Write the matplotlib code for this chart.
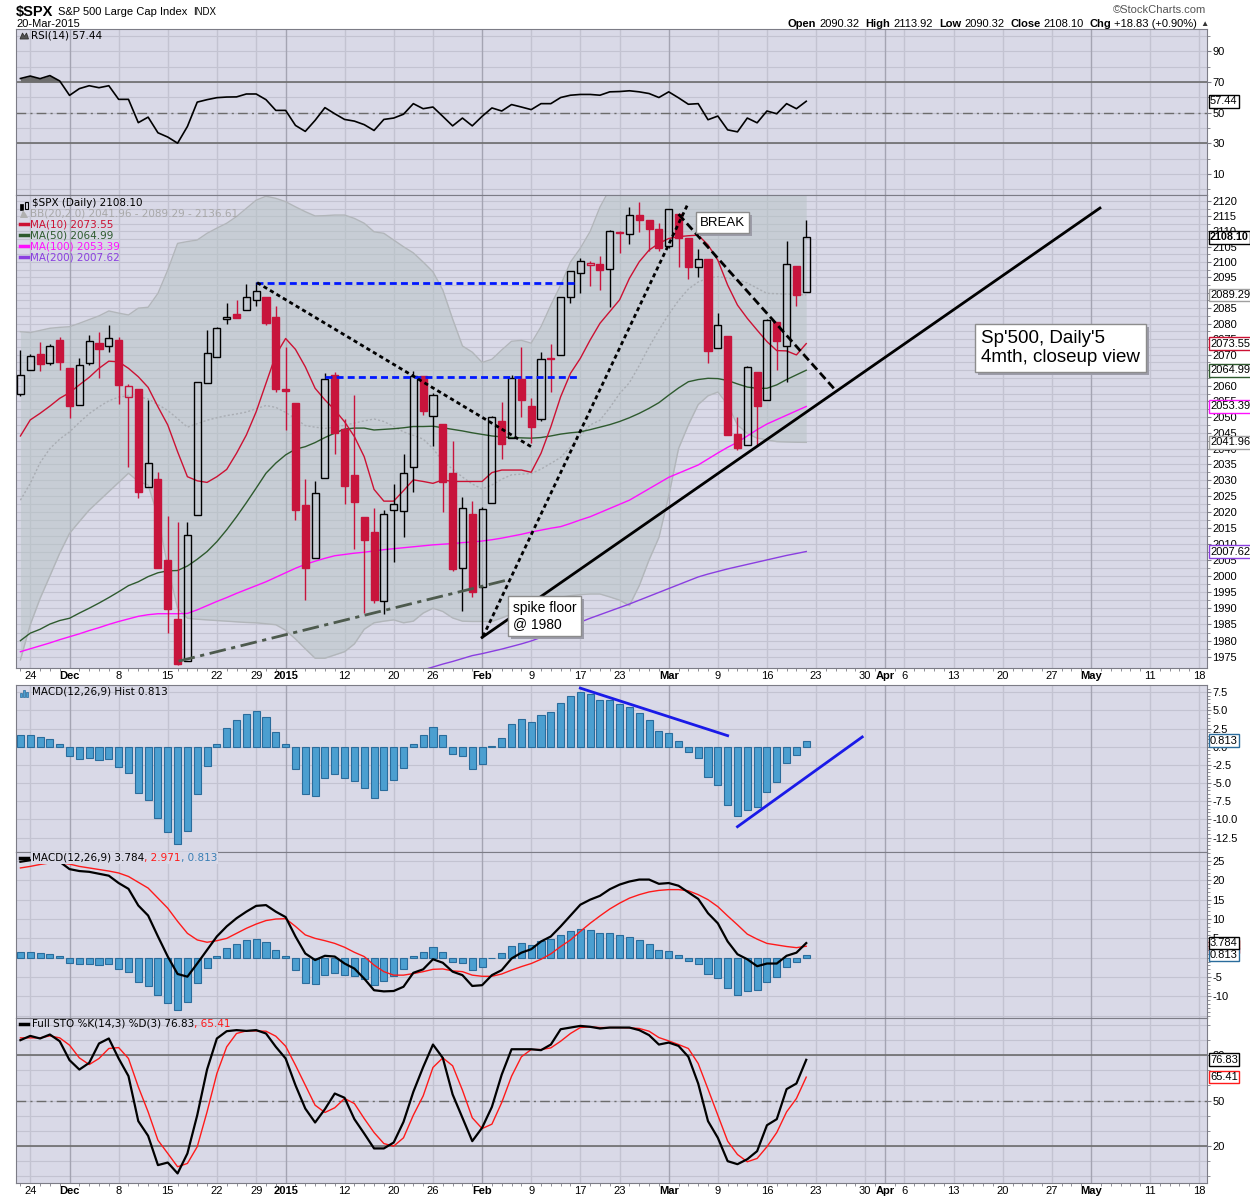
import matplotlib
matplotlib.use("Agg")
import matplotlib.pyplot as plt
import numpy as np
from matplotlib.lines import Line2D
from matplotlib.patches import Rectangle, Polygon
from matplotlib.ticker import FixedLocator, FuncFormatter, NullFormatter
from matplotlib.transforms import IdentityTransform

plt.rcParams["font.family"] = ["Liberation Sans", "DejaVu Sans"]

# ---------------- data (one entry per trading day, 21-Nov-2014 .. 20-Mar-2015) ----------------
prev_close = 2052.75
opens = [2057.46, 2065.07, 2070.15, 2067.36, 2074.78, 2065.78, 2053.77, 2067.45, 2073.64, 2072.78,
         2074.84, 2056.55, 2058.86, 2027.92, 2030.36, 2005.03, 1986.71, 1973.77, 2018.98, 2061.04,
         2069.28, 2081.48, 2083.25, 2084.30, 2087.63, 2088.49, 2082.11, 2058.90, 2054.44, 2022.15,
         2005.55, 2030.61, 2063.45, 2046.13, 2031.58, 2018.40, 2013.75, 1992.25, 2020.76, 2020.19,
         2034.30, 2062.98, 2050.42, 2047.86, 2032.34, 2002.45, 2019.35, 1996.67, 2022.71, 2048.86,
         2043.45, 2062.28, 2053.47, 2049.38, 2068.55, 2069.98, 2088.78, 2096.47, 2099.16, 2099.25,
         2097.65, 2109.83, 2109.10, 2115.30, 2113.91, 2110.88, 2105.23, 2115.76, 2107.72, 2098.54,
         2100.91, 2072.25, 2076.14, 2044.69, 2041.10, 2064.56, 2055.35, 2080.59, 2072.84, 2098.69,
         2090.32]
highs = [2071.46, 2070.17, 2074.21, 2073.29, 2075.76, 2065.78, 2068.77, 2076.28, 2077.34, 2079.47,
         2075.78, 2060.60, 2058.86, 2055.53, 2032.50, 2018.69, 2016.89, 2016.75, 2061.23, 2077.85,
         2078.76, 2086.73, 2087.56, 2092.70, 2093.55, 2088.49, 2085.58, 2072.36, 2054.44, 2030.25,
         2029.61, 2064.08, 2064.43, 2049.30, 2056.93, 2018.40, 2021.35, 2020.46, 2028.94, 2038.29,
         2064.62, 2062.98, 2057.62, 2047.86, 2042.49, 2024.64, 2023.32, 2021.66, 2050.30, 2054.74,
         2063.55, 2072.40, 2056.16, 2070.86, 2073.48, 2088.53, 2097.03, 2101.30, 2100.23, 2102.13,
         2110.61, 2110.05, 2117.94, 2119.59, 2113.91, 2112.74, 2117.52, 2115.76, 2107.72, 2104.25,
         2100.91, 2083.49, 2076.14, 2050.08, 2066.41, 2064.56, 2081.41, 2080.59, 2106.85, 2098.69,
         2113.92]
lows = [2056.75, 2065.07, 2064.75, 2066.62, 2065.06, 2049.57, 2053.77, 2066.65, 2062.34, 2070.81,
        2054.27, 2034.17, 2024.26, 2027.92, 2002.33, 1982.26, 1972.56, 1973.77, 2018.98, 2061.03,
        2069.28, 2079.77, 2081.86, 2084.30, 2085.75, 2079.53, 2057.94, 2046.04, 2017.34, 1992.44,
        2005.55, 2030.61, 2038.33, 2022.58, 2008.25, 1988.44, 1991.47, 1988.12, 2004.49, 2012.04,
        2026.38, 2050.54, 2040.97, 2019.91, 2001.49, 1989.18, 1993.38, 1980.90, 2022.71, 2036.72,
        2043.45, 2049.97, 2041.88, 2048.62, 2057.99, 2069.98, 2086.70, 2089.80, 2092.15, 2090.79,
        2085.44, 2103.00, 2105.87, 2109.89, 2103.76, 2103.75, 2104.50, 2098.26, 2094.49, 2095.22,
        2067.27, 2072.21, 2044.16, 2039.69, 2041.10, 2041.17, 2055.35, 2065.08, 2061.23, 2085.56,
        2090.32]
closes = [2063.50, 2069.41, 2067.03, 2072.83, 2067.56, 2053.44, 2066.55, 2074.33, 2071.92, 2075.37,
          2060.31, 2059.82, 2026.14, 2035.33, 2002.33, 1989.63, 1972.74, 2012.89, 2061.23, 2070.65,
          2078.54, 2082.17, 2081.88, 2088.77, 2090.57, 2080.35, 2058.90, 2058.20, 2020.58, 2002.61,
          2025.90, 2062.14, 2044.81, 2028.26, 2023.03, 2011.27, 1992.67, 2019.42, 2022.55, 2032.12,
          2063.15, 2051.82, 2057.09, 2029.55, 2002.16, 2021.25, 1994.99, 2020.85, 2050.03, 2041.51,
          2062.52, 2055.47, 2046.74, 2068.59, 2068.53, 2088.48, 2096.99, 2100.34, 2099.68, 2097.45,
          2110.30, 2109.66, 2115.48, 2113.86, 2110.74, 2104.50, 2117.39, 2107.78, 2098.53, 2101.04,
          2071.26, 2079.43, 2044.16, 2040.24, 2065.95, 2053.40, 2081.19, 2074.28, 2099.50, 2089.27,
          2108.10]

ma10 = [2044.0, 2049.1, 2051.2, 2053.5, 2056.0, 2057.8, 2060.3, 2062.7, 2065.6, 2067.9,
        2067.7, 2065.6, 2062.9, 2059.5, 2053.3, 2047.5, 2039.0, 2031.1, 2029.8, 2029.3,
        2031.1, 2033.4, 2038.5, 2044.3, 2051.7, 2060.8, 2069.9, 2075.2, 2071.7, 2066.1,
        2059.2, 2055.5, 2052.3, 2048.5, 2043.8, 2037.4, 2027.1, 2023.4, 2023.4, 2026.7,
        2030.1, 2029.6, 2029.0, 2030.1, 2029.6, 2029.6, 2029.6, 2029.6, 2032.4, 2033.2,
        2033.2, 2033.2, 2032.5, 2038.5, 2046.9, 2056.5, 2064.0, 2068.8, 2074.7, 2080.1,
        2083.9, 2087.7, 2094.7, 2100.1, 2103.9, 2106.1, 2107.7, 2108.3, 2108.6, 2108.8,
        2105.6, 2100.6, 2092.5, 2086.0, 2081.7, 2077.9, 2074.2, 2071.3, 2071.2, 2069.9,
        2073.55]
ma50 = [1980.0, 1982.3, 1983.5, 1985.1, 1986.2, 1986.9, 1988.5, 1990.0, 1991.6, 1993.3,
        1995.1, 1997.0, 1998.2, 1999.8, 2001.0, 2001.6, 2001.7, 2003.1, 2005.2, 2007.6,
        2010.7, 2014.4, 2018.5, 2022.9, 2027.5, 2032.2, 2035.4, 2038.0, 2039.8, 2040.6,
        2041.9, 2043.5, 2044.9, 2046.2, 2046.5, 2046.5, 2045.9, 2046.1, 2046.3, 2046.6,
        2047.0, 2047.0, 2047.1, 2046.6, 2046.1, 2045.6, 2045.0, 2044.5, 2044.0, 2043.7,
        2043.5, 2043.4, 2043.3, 2043.5, 2044.0, 2044.6, 2045.0, 2045.3, 2046.0, 2046.8,
        2047.6, 2048.6, 2049.8, 2051.2, 2052.8, 2054.6, 2057.0, 2059.3, 2061.3, 2062.0,
        2062.4, 2062.3, 2061.7, 2060.6, 2059.6, 2059.2, 2059.2, 2060.3, 2062.0, 2063.5,
        2064.99]
ma100 = [1976.6, 1977.5, 1978.4, 1979.3, 1980.3, 1981.2, 1982.1, 1983.1, 1984.0, 1985.0,
         1985.9, 1986.7, 1987.5, 1988.0, 1988.3, 1988.3, 1988.3, 1988.4, 1989.5, 1990.8,
         1992.1, 1993.3, 1994.6, 1995.8, 1997.0, 1998.2, 1999.6, 2001.0, 2002.4, 2003.6,
         2004.6, 2005.5, 2006.3, 2006.7, 2007.1, 2007.4, 2007.8, 2008.2, 2008.5, 2008.8,
         2009.1, 2009.4, 2009.7, 2009.9, 2010.1, 2010.4, 2010.6, 2010.9, 2011.3, 2011.8,
         2012.4, 2013.0, 2013.7, 2014.3, 2014.9, 2015.4, 2016.4, 2017.5, 2018.5, 2019.8,
         2021.1, 2022.4, 2023.7, 2025.5, 2027.3, 2029.1, 2030.9, 2032.2, 2033.5, 2034.8,
         2036.7, 2038.6, 2040.4, 2042.0, 2044.0, 2046.0, 2047.8, 2049.2, 2050.6, 2052.0,
         2053.39]
ma200_first = 40  # earlier values sit below the visible price range
ma200 = [1970.3, 1971.0, 1971.9, 1972.8, 1973.6, 1974.5, 1975.4, 1976.0, 1976.7, 1977.4,
         1978.2, 1979.0, 1979.9, 1981.0, 1982.1, 1983.2, 1984.5, 1985.7, 1986.9, 1988.0,
         1989.1, 1990.2, 1991.3, 1992.5, 1993.7, 1994.9, 1996.1, 1997.3, 1998.5, 1999.7,
         2000.6, 2001.4, 2002.2, 2002.9, 2003.6, 2004.3, 2005.0, 2005.7, 2006.4, 2007.0,
         2007.62]
bb_mid = [2023.7, 2029.0, 2035.5, 2040.0, 2043.0, 2045.3, 2048.3, 2051.1, 2053.3, 2055.2,
          2056.4, 2056.8, 2056.5, 2055.8, 2054.0, 2052.1, 2049.5, 2046.8, 2047.9, 2049.0,
          2049.8, 2050.5, 2051.0, 2051.6, 2052.7, 2053.7, 2053.1, 2051.5, 2049.5, 2047.3,
          2046.8, 2046.4, 2046.8, 2047.4, 2048.1, 2048.8, 2049.4, 2048.6, 2047.0, 2045.3,
          2044.2, 2043.0, 2040.0, 2036.0, 2033.5, 2031.0, 2028.8, 2027.2, 2028.5, 2030.3,
          2031.7, 2031.9, 2032.1, 2033.5, 2035.3, 2037.2, 2040.5, 2044.0, 2047.5, 2049.0,
          2053.0, 2057.5, 2061.0, 2066.5, 2072.5, 2077.9, 2083.0, 2087.5, 2091.2, 2093.5,
          2094.8, 2095.2, 2094.8, 2094.2, 2093.2, 2091.5, 2089.8, 2089.7, 2089.6, 2089.5,
          2089.29]
bb_upper = [2077.4, 2077.1, 2077.8, 2078.5, 2078.8, 2079.0, 2080.1, 2081.3, 2082.5, 2084.1,
            2083.4, 2082.8, 2085.0, 2085.3, 2089.8, 2097.4, 2106.1, 2106.7, 2107.2, 2109.4,
            2111.1, 2112.7, 2114.9, 2117.6, 2120.3, 2121.6, 2120.9, 2119.8, 2118.1, 2116.5,
            2115.1, 2115.2, 2115.4, 2115.4, 2114.3, 2112.7, 2109.9, 2109.4, 2107.2, 2105.0,
            2103.0, 2100.0, 2096.8, 2090.9, 2081.5, 2072.8, 2070.8, 2067.5, 2068.5, 2071.5,
            2074.3, 2074.6, 2073.7, 2079.0, 2086.0, 2092.5, 2100.0, 2104.5, 2110.0, 2118.0,
            2124.0, 2128.0, 2131.0, 2133.0, 2135.0, 2136.0, 2137.0, 2138.0, 2139.0, 2140.0,
            2140.0, 2140.0, 2141.0, 2141.0, 2140.0, 2139.0, 2138.0, 2138.0, 2137.0, 2137.0,
            2136.61]
bb_lower = [1974.1, 1984.9, 1993.0, 2000.0, 2007.1, 2013.3, 2017.0, 2020.6, 2023.5, 2026.4,
            2029.3, 2032.2, 2029.6, 2028.5, 2018.5, 2002.9, 1990.0, 1986.9, 1986.6, 1986.4,
            1986.2, 1986.0, 1985.8, 1985.6, 1985.5, 1985.2, 1984.9, 1983.2, 1980.5, 1977.5,
            1974.6, 1974.6, 1975.6, 1976.6, 1979.0, 1983.5, 1985.5, 1986.0, 1986.4, 1985.5,
            1986.0, 1988.5, 1990.0, 1989.0, 1987.0, 1986.0, 1985.9, 1985.9, 1985.9, 1987.0,
            1988.2, 1989.3, 1990.4, 1991.5, 1992.5, 1993.4, 1993.9, 1994.2, 1994.4, 1994.4,
            1993.5, 1992.5, 1990.8, 1997.0, 2005.0, 2012.0, 2025.0, 2040.0, 2047.5, 2054.0,
            2056.8, 2058.0, 2054.0, 2047.5, 2044.8, 2043.3, 2042.8, 2042.2, 2042.1, 2042.0,
            2041.96]

rsi = [72.3, 73.9, 72.2, 74.2, 70.7, 61.3, 65.7, 67.6, 66.3, 67.6,
       58.7, 58.7, 43.5, 47.1, 36.9, 34.1, 30.1, 41.0, 56.9, 58.5,
       59.8, 60.2, 60.3, 62.2, 62.2, 58.5, 51.5, 51.5, 41.7, 37.8,
       45.0, 53.3, 49.3, 45.6, 44.5, 42.2, 38.4, 45.6, 46.5, 49.0,
       55.9, 52.6, 53.7, 47.6, 41.4, 46.5, 41.4, 47.6, 53.1, 51.1,
       55.3, 53.7, 52.0, 55.9, 55.9, 59.9, 61.4, 61.9, 61.9, 61.4,
       63.6, 63.8, 64.3, 63.6, 62.5, 59.9, 63.6, 59.7, 55.5, 55.9,
       45.4, 47.8, 38.8, 37.5, 46.5, 43.4, 51.1, 49.3, 55.9, 52.6,
       57.44]
macd_hist = [1.56, 1.56, 1.29, 1.01, 0.32, -1.33, -1.66, -1.52, -1.79, -1.75,
             -2.85, -3.68, -6.30, -7.26, -9.75, -11.68, -13.43, -11.54, -6.57, -2.71,
             0.32, 2.53, 3.63, 4.46, 4.87, 4.05, 1.98, 0.32, -3.13, -6.48,
             -6.76, -4.37, -3.82, -4.37, -4.78, -5.61, -6.99, -5.89, -4.60, -2.99,
             0.32, 1.56, 2.67, 1.56, -1.06, -1.33, -3.13, -2.44, 0.05, 1.15,
             3.13, 3.77, 3.36, 4.32, 4.74, 5.98, 6.94, 7.49, 7.22, 6.39,
             6.39, 5.84, 5.43, 4.60, 3.63, 2.11, 1.84, 0.78, -0.78, -1.61,
             -4.23, -5.20, -7.95, -9.56, -8.64, -8.32, -6.16, -4.92, -2.30, -1.20,
             0.813]
macd_line = [24.8, 25.2, 25.4, 25.5, 24.8, 22.9, 22.4, 22.2, 21.7, 21.2,
             19.3, 17.8, 13.5, 10.9, 5.5, 0.3, -4.2, -4.9, -1.5, 2.0,
             5.5, 8.1, 10.2, 11.9, 13.4, 13.6, 11.9, 10.5, 5.5, 1.1,
             -0.6, 0.5, 0.3, -1.5, -2.8, -5.4, -8.4, -8.7, -8.6, -7.5,
             -3.9, -3.0, -0.4, -1.3, -3.6, -4.5, -7.3, -7.1, -4.5, -3.2,
             -0.2, 1.3, 2.2, 4.2, 5.5, 8.1, 10.9, 13.7, 15.0, 16.0,
             17.7, 18.9, 19.7, 20.2, 20.2, 19.1, 19.3, 18.6, 16.9, 15.2,
             11.5, 8.9, 4.2, 0.9, -0.4, -2.2, -1.5, -1.5, 0.5, 1.3,
             3.784]
macd_signal = [23.2, 23.6, 24.1, 24.5, 24.5, 24.2, 23.6, 23.2, 22.8, 22.4,
               21.9, 21.0, 19.5, 18.0, 15.4, 12.8, 9.4, 6.3, 4.6, 4.0,
               4.4, 5.0, 6.3, 7.6, 8.7, 9.6, 10.0, 10.1, 8.1, 5.9,
               5.0, 4.4, 3.7, 2.7, 1.4, 0.3, -1.9, -3.6, -4.5, -4.5,
               -4.1, -3.6, -3.0, -2.9, -3.4, -3.6, -4.5, -4.8, -4.8, -4.2,
               -3.2, -2.3, -1.5, -0.4, 1.0, 2.9, 4.6, 6.8, 8.9, 10.8,
               12.6, 14.1, 15.4, 16.3, 17.0, 17.4, 17.6, 17.6, 17.3, 16.3,
               15.0, 13.2, 10.8, 8.5, 6.1, 4.8, 3.7, 3.3, 2.9, 2.6,
               2.971]
sto_k = [89.8, 92.6, 90.9, 93.5, 89.1, 76.6, 70.4, 74.8, 87.6, 90.9,
         77.7, 66.1, 36.4, 26.7, 7.4, 9.1, 1.9, 15.1, 40.3, 70.4,
         90.9, 95.7, 96.4, 95.9, 96.4, 94.2, 85.4, 77.7, 60.1, 44.7,
         35.5, 44.3, 54.6, 51.8, 37.7, 28.2, 18.4, 18.4, 22.3, 35.9,
         55.7, 72.0, 86.9, 78.1, 54.0, 38.6, 23.2, 32.0, 45.8, 67.1,
         83.8, 83.8, 83.8, 83.2, 86.9, 97.0, 98.1, 99.2, 98.6, 97.5,
         98.1, 98.1, 98.1, 96.4, 93.1, 86.9, 88.2, 86.0, 78.8, 61.2,
         36.4, 25.4, 10.0, 8.0, 11.3, 16.6, 33.7, 37.7, 57.5, 61.2,
         76.83]
sto_d = [91.3, 91.3, 91.3, 92.6, 91.3, 86.5, 78.1, 73.7, 77.7, 84.3,
         84.9, 77.7, 59.0, 42.5, 23.8, 15.1, 6.3, 8.5, 19.5, 42.5,
         67.8, 85.4, 94.2, 95.9, 95.9, 95.7, 92.4, 85.8, 73.3, 60.1,
         46.9, 42.1, 45.2, 51.3, 48.0, 38.1, 28.9, 21.6, 19.9, 25.4,
         40.3, 53.0, 71.8, 78.1, 72.9, 56.8, 38.6, 31.5, 34.4, 48.7,
         66.0, 78.8, 83.6, 83.6, 84.7, 89.1, 94.2, 98.1, 98.6, 98.1,
         98.1, 98.1, 97.9, 97.5, 95.7, 91.5, 89.3, 86.9, 84.3, 74.4,
         57.5, 40.3, 23.2, 14.4, 9.6, 11.8, 19.5, 28.9, 42.5, 51.3,
         65.41]

# x axis labels (trading-day index; the axis runs on past Mar-20 into May)
tick_pos = [1, 5, 10, 15, 20, 24, 27, 33, 38, 42, 47, 52, 57, 61, 66, 71, 76, 81,
            86, 88, 90, 95, 100, 105, 109, 115, 120]
tick_lab = ["24", "Dec", "8", "15", "22", "29", "2015", "12", "20", "26", "Feb", "9",
            "17", "23", "Mar", "9", "16", "23", "30", "Apr", "6", "13", "20", "27",
            "May", "11", "18"]
bold_lab = {"Dec", "2015", "Feb", "Mar", "Apr", "May"}

# hand drawn annotations (trading-day index, price)
blue_levels = [(24.0, 56.8, 2093.3), (31.0, 57.0, 2062.7)]
dotted_lines = [((24.1, 2093.3), (52.1, 2040.4)),
                ((47.1, 1981.3), (67.9, 2118.7))]
dashed_line = ((67.0, 2115.7), (83.0, 2058.5))
support_line = ((47.0, 1981.0), (109.9, 2117.7))
dashdot_line = ((16.1, 1973.7), (49.9, 1999.0))
hist_lines = [((57.0, 8.06), (72.0, 1.52)), ((73.0, -11.0), (85.7, 1.34))]

# ---------------- drawing ----------------
W, H = 1250, 1200
BG = "#d9d9e7"
GRID = "#c3c3d1"
MONTH = "#a4a4b2"
FRAME = "#7c7c86"
RED = "#c8143c"
HIST = "#4b9fd0"
HIST_E = "#2a6c9c"
XMIN, XMAX = -0.45, 120.8
days = np.arange(len(closes))

fig = plt.figure(figsize=(W / 100, H / 100), dpi=100)
fig.patch.set_facecolor("white")
notes = []


def P(x, y):
    return x / W, 1 - y / H


def prect(x, ytop, w, h, **kw):
    # rectangle given in figure pixels (top-left origin)
    return Rectangle((x / W, 1 - (ytop + h) / H), w / W, h / H, transform=fig.transFigure, **kw)


def panel(top, bottom):
    ax = fig.add_axes([16 / W, 1 - bottom / H, 1191 / W, (bottom - top) / H])
    ax.set_facecolor(BG)
    ax.set_xlim(XMIN, XMAX)
    for sp in ax.spines.values():
        sp.set_color(FRAME)
    ax.yaxis.tick_right()
    ax.set_xticks(tick_pos)
    ax.set_xticks(range(0, 121), minor=True)
    ax.set_xticklabels(tick_lab)
    ax.tick_params(axis="x", which="major", length=0, labelsize=8, pad=2, labelbottom=False)
    ax.tick_params(axis="x", which="minor", length=2, color=FRAME)
    for p, lab in zip(tick_pos, tick_lab):
        ax.axvline(p, color=MONTH if lab in bold_lab else GRID, lw=1, zorder=0.3)
    return ax


def yaxis(ax, lo, hi, major, minor, fmt, grid):
    ax.set_ylim(lo, hi)
    ax.yaxis.set_major_locator(FixedLocator(major))
    ax.yaxis.set_major_formatter(FuncFormatter(lambda v, p: fmt % v))
    ax.yaxis.set_minor_locator(FixedLocator(minor))
    ax.yaxis.set_minor_formatter(NullFormatter())
    ax.tick_params(axis="y", which="major", length=3, width=0.8, color=FRAME, labelsize=8, pad=1)
    ax.tick_params(axis="y", which="minor", length=2, width=0.6, color=FRAME)
    for v in grid:
        ax.axhline(v, color=GRID, lw=0.8, zorder=0.2)


def show_dates(ax):
    ax.tick_params(axis="x", which="major", labelbottom=True)
    for t in ax.get_xticklabels():
        if t.get_text() in bold_lab:
            t.set_fontweight("bold")


def vbox(ax, y, s, ec, fw="normal", fs=8):
    ax.text(1.0025, y, s, transform=ax.get_yaxis_transform(), ha="left", va="center",
            fontsize=fs, fontweight=fw, color="black", clip_on=False, zorder=20,
            bbox=dict(boxstyle="square,pad=0.12", fc="white", ec=ec, lw=1))


def note(ax, x, y, s, size):
    t = ax.text(x, y, s, fontsize=size, color="black", ha="left", va="center", zorder=9,
                bbox=dict(boxstyle="square,pad=0.32", fc="white", ec="#8c8c8c", lw=1))
    notes.append((ax, t))


def seq_text(x, y, parts, size=7.5, family=None, bg=None):
    r = fig.canvas.get_renderer()
    for s, color, weight, gap, fs in parts:
        kw = dict(color=color, fontweight=weight, fontsize=fs or size, ha="left", va="center")
        if family:
            kw["family"] = family
        if bg:
            kw["bbox"] = dict(boxstyle="square,pad=0.05", fc=bg, ec="none")
        t = fig.text(*P(x, y), s, **kw)
        x += t.get_window_extent(renderer=r).width + gap


def legend_dash(y, color):
    fig.add_artist(Line2D([20 / W, 28 / W], [1 - y / H, 1 - y / H], color=color, lw=2.5))


LEG = dict(fontsize=7.5, family=["DejaVu Sans"], ha="left", va="center")

# ---- header ----
seq_text(16, 12, [("$SPX", "black", "bold", 5, 10.5),
                  ("S&P 500 Large Cap Index", "black", "normal", 5, 8),
                  ("INDX", "black", "normal", 0, 7)])
fig.text(*P(16, 24), "20-Mar-2015", fontsize=8, ha="left", va="center")
fig.text(*P(1206, 10), "\u00a9StockCharts.com", fontsize=8, color="#555555", ha="right", va="center")
seq_text(788, 24, [("Open", "black", "bold", 3, None), ("2090.32", "black", "normal", 6, None),
                   ("High", "black", "bold", 3, None), ("2113.92", "black", "normal", 6, None),
                   ("Low", "black", "bold", 3, None), ("2090.32", "black", "normal", 6, None),
                   ("Close", "black", "bold", 3, None), ("2108.10", "black", "normal", 6, None),
                   ("Chg", "black", "bold", 3, None), ("+18.83 (+0.90%)", "black", "normal", 3, None),
                   ("\u25b2", "#333333", "normal", 0, 6)], size=8)

# ---- RSI ----
ax_rsi = panel(29, 195)
yaxis(ax_rsi, -3.7, 104.6, [10, 30, 50, 70, 90], [0, 20, 40, 60, 80, 100], "%d",
      range(0, 101, 10))
ax_rsi.axhline(70, color="#6c6c6c", lw=1.2, zorder=1)
ax_rsi.axhline(30, color="#6c6c6c", lw=1.2, zorder=1)
ax_rsi.axhline(50, color="#6c6c6c", lw=1, ls=(0, (7, 3, 1.5, 3)), zorder=1)
rsi_a = np.array(rsi)
ax_rsi.fill_between(days, rsi_a, 70, where=rsi_a > 70, interpolate=True, color="#6e6e6e", lw=0, zorder=2)
ax_rsi.plot(days, rsi, color="black", lw=1.2, zorder=3)
vbox(ax_rsi, rsi[-1], "57.44", "black")
fig.add_artist(Polygon([P(20, 39), P(22.5, 33), P(24.5, 36.5), P(26.5, 33), P(28.5, 39)],
                       closed=True, fc="#555555", ec="#333333", lw=0.6))
fig.text(*P(31, 36), "RSI(14) 57.44", **LEG)

# ---- price ----
ax = panel(195, 668)
ax.set_yscale("log")
yaxis(ax, 1971.6, 2122.0, list(range(1975, 2121, 5)), list(np.arange(1977.5, 2121, 5)), "%d",
      list(np.arange(1975, 2121, 2.5)))
ax.fill_between(days, bb_lower, bb_upper, color="#b7c3c5", alpha=0.5, lw=0, zorder=1)
ax.plot(days, bb_upper, color="#b2b6ba", lw=1, zorder=1.5)
ax.plot(days, bb_lower, color="#b2b6ba", lw=1, zorder=1.5)
ax.plot(days, bb_mid, color="#a9adb3", lw=1, ls=(0, (1.5, 1.5)), zorder=1.6)
ax.plot(days, ma100, color="#ff10ff", lw=1, zorder=2)
ax.plot(np.arange(ma200_first, ma200_first + len(ma200)), ma200, color="#8a3ee0", lw=1, zorder=2)
ax.plot(days, ma50, color="#2e5a2e", lw=1, zorder=2)
ax.plot(days, ma10, color="#cc1133", lw=1, zorder=2)

for i in days:
    o, h, l, c = opens[i], highs[i], lows[i], closes[i]
    pc = prev_close if i == 0 else closes[i - 1]
    col = RED if c < pc else "black"
    top, bot = max(o, c), min(o, c)
    ax.vlines(i, top, h, color=col, lw=1, zorder=4)
    ax.vlines(i, l, bot, color=col, lw=1, zorder=4)
    ax.add_patch(Rectangle((i - 0.36, bot), 0.72, max(top - bot, 0.25),
                           fc="none" if c >= o else col, ec=col, lw=1, zorder=4))

for x0, x1, lvl in blue_levels:
    ax.plot([x0, x1], [lvl, lvl], color="#0018ff", lw=2, ls=(0, (2.5, 1.5)), zorder=6)
for (x0, y0), (x1, y1) in dotted_lines:
    ax.plot([x0, x1], [y0, y1], color="black", lw=2, ls=(0, (1.5, 1.2)), zorder=6)
(x0, y0), (x1, y1) = dashed_line
ax.plot([x0, x1], [y0, y1], color="black", lw=2, ls=(0, (3, 1.5)), zorder=6)
(x0, y0), (x1, y1) = support_line
ax.plot([x0, x1], [y0, y1], color="black", lw=2, zorder=6)
(x0, y0), (x1, y1) = dashdot_line
ax.plot([x0, x1], [y0, y1], color="#4d5a4d", lw=2, ls=(0, (6, 2, 1.5, 2)), zorder=6)

note(ax, 69.2, 2112.9, "BREAK", 9.5)
note(ax, 50.1, 1987.6, "spike floor\n@ 1980", 10)
note(ax, 97.8, 2072.1, "Sp'500, Daily'5\n4mth, closeup view", 13.5)

vbox(ax, bb_mid[-1], "2089.29", "#a0a0a0")
vbox(ax, ma200[-1], "2007.62", "#8a3ee0")
vbox(ax, bb_lower[-1], "2041.96", "#a0a0a0")
vbox(ax, ma100[-1], "2053.39", "#ff10ff")
vbox(ax, ma50[-1], "2064.99", "#2e5a2e")
vbox(ax, ma10[-1], "2073.55", "#cc1133")
vbox(ax, closes[-1], "2108.10", "black", fw="bold", fs=7.8)
show_dates(ax)

fig.add_artist(prect(20, 204, 3, 6, fc="black", ec="black", lw=0.5))
fig.add_artist(prect(25, 202, 3, 7, fc="none", ec="black", lw=0.8))
fig.text(*P(32, 202.7), "$SPX (Daily) 2108.10", color="black", **LEG)
fig.add_artist(Polygon([P(20, 218), P(23, 210), P(26, 214), P(28, 218)], closed=True,
                       fc="#b0b0b0", ec="none"))
fig.text(*P(29.5, 213.3), "BB(20,2.0) 2041.96 - 2089.29 - 2136.61", color="#a8a8a8", **LEG)
for yy, col, s in [(224.3, "#cc1133", "MA(10) 2073.55"), (235.3, "#2e5a2e", "MA(50) 2064.99"),
                   (246.3, "#ff10ff", "MA(100) 2053.39"), (257.3, "#8a3ee0", "MA(200) 2007.62")]:
    legend_dash(yy, col)
    fig.text(*P(29.5, yy), s, color=col, **LEG)

# ---- MACD histogram ----
ax_h = panel(685, 851.7)
hm = [-12.5, -10.0, -7.5, -5.0, -2.5, 0.0, 2.5, 5.0, 7.5]
yaxis(ax_h, -14.44, 8.49, hm, list(np.arange(-14, 8.6, 0.5)), "%.1f", hm)
ax_h.bar(days, macd_hist, width=0.72, color=HIST, edgecolor=HIST_E, lw=0.8, zorder=3)
for (x0, y0), (x1, y1) in hist_lines:
    ax_h.plot([x0, x1], [y0, y1], color="#1a1ae8", lw=2, zorder=5)
vbox(ax_h, macd_hist[-1], "0.813", HIST_E)
for k, hh in enumerate([4, 7, 5]):
    fig.add_artist(prect(20 + 3 * k, 697 - hh, 2, hh, fc=HIST, ec=HIST_E, lw=0.5))
fig.text(*P(32, 692), "MACD(12,26,9) Hist 0.813", color="black", **LEG)

# ---- MACD ----
ax_m = panel(851.7, 1017.7)
yaxis(ax_m, -15.5, 27.4, list(range(-10, 26, 5)), list(range(-15, 28)), "%d", range(-15, 28, 5))
ax_m.bar(days, macd_hist, width=0.72, color=HIST, edgecolor=HIST_E, lw=0.8, zorder=3)
ax_m.plot(days, macd_signal, color="#ff1a1a", lw=1, zorder=4)
ax_m.plot(days, macd_line, color="black", lw=1.6, zorder=5)
vbox(ax_m, macd_signal[-1], "2.971", "#ff1a1a")
vbox(ax_m, macd_hist[-1], "0.813", HIST_E)
vbox(ax_m, macd_line[-1], "3.784", "black")
legend_dash(858, "black")
seq_text(32, 858, [("MACD(12,26,9) 3.784", "black", "normal", 0, None),
                   (", 2.971", "#ff1a1a", "normal", 0, None),
                   (", 0.813", "#3a7fb5", "normal", 0, None)], family=["DejaVu Sans"], bg=BG)

# ---- Full stochastics ----
ax_s = panel(1017.7, 1183)
yaxis(ax_s, -4.4, 104.6, [20, 50, 80], list(range(0, 101, 10)), "%d", range(0, 101, 10))
ax_s.axhline(80, color="#6c6c6c", lw=1.2, zorder=1)
ax_s.axhline(20, color="#6c6c6c", lw=1.2, zorder=1)
ax_s.axhline(50, color="#6c6c6c", lw=1, ls=(0, (7, 3, 1.5, 3)), zorder=1)
ax_s.plot(days, sto_d, color="#ff1a1a", lw=1, zorder=3)
ax_s.plot(days, sto_k, color="black", lw=1.6, zorder=4)
vbox(ax_s, sto_d[-1], "65.41", "#ff1a1a")
vbox(ax_s, sto_k[-1], "76.83", "black")
show_dates(ax_s)
legend_dash(1023.5, "black")
seq_text(32, 1023.5, [("Full STO %K(14,3) %D(3) 76.83", "black", "normal", 0, None),
                      (", 65.41", "#ff1a1a", "normal", 0, None)], family=["DejaVu Sans"])

# drop shadows under the note boxes (measured once the boxes are laid out)
fig.canvas.draw()
for a, t in notes:
    bb = t.get_bbox_patch().get_window_extent()
    a.add_patch(Rectangle((bb.x0 + 3, bb.y0 - 3), bb.width, bb.height, transform=IdentityTransform(),
                          fc="#9c9ca8", ec="none", zorder=8.5, clip_on=False))

fig.savefig("out.png", dpi=100, facecolor="white")
